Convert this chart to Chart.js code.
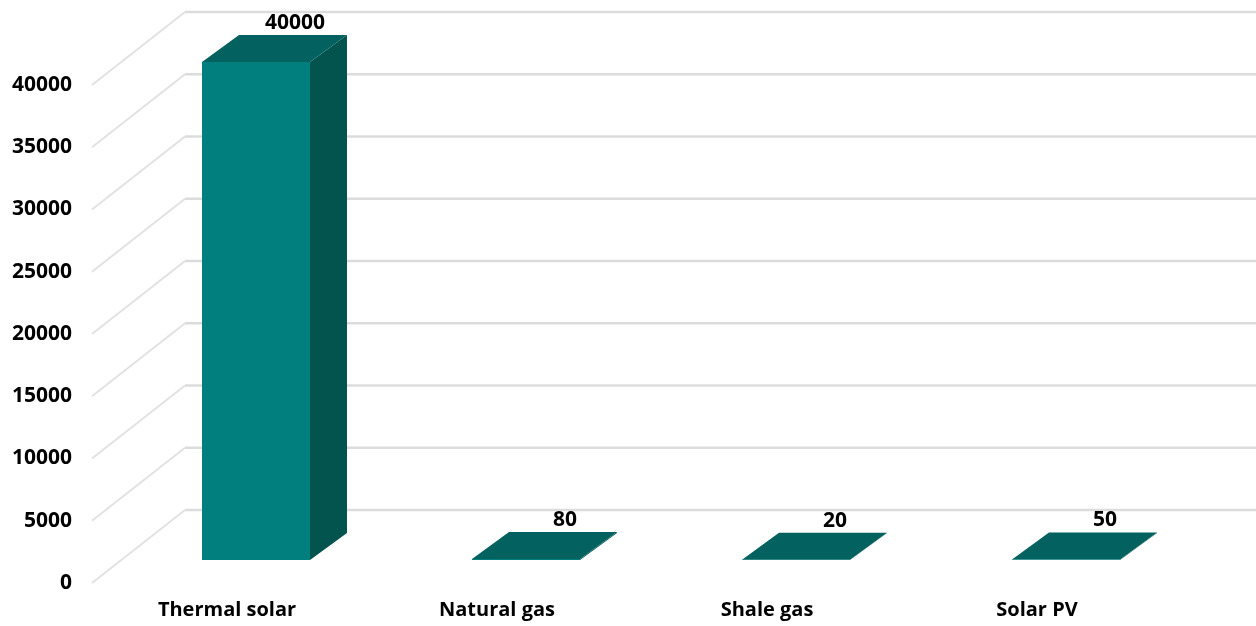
<!DOCTYPE html>
<html>
<head>
<meta charset="utf-8">
<script src="https://cdn.jsdelivr.net/npm/chart.js@4/dist/chart.umd.min.js"></script>
<style>
  html, body { margin: 0; padding: 0; background: #ffffff; }
  #wrap { width: 1256px; height: 626px; position: relative; }
</style>
</head>
<body>
<div id="wrap"><canvas id="c" width="1256" height="626"></canvas></div>
<script>
const categories = ['Thermal solar', 'Natural gas', 'Shale gas', 'Solar PV'];
const values = [40000, 80, 20, 50];
const valueLabels = ['40000', '80', '20', '50'];
const yMin = 0;
const yMax = 40000;
const yStep = 5000;

const FONT = '"Open Sans", "Noto Sans", sans-serif';
const FRONT = '#017f7e';
const SIDE = '#03534f';
const TOP = '#03625f';
const GRID = '#dcdcdc';
const GRID_DIAG = '#e2e2e2';

// 3D depth offsets (style, relative to bar front plane)
const BAR_DX = 37, BAR_DY = -27;
const FLOOR_FRONT_DX = -29, FLOOR_FRONT_DY = 23;
const WALL_DX = 64, WALL_DY = -50;

const threeD = {
  id: 'threeD',
  beforeDatasetsDraw(chart) {
    const ctx = chart.ctx;
    const ys = chart.scales.y;
    const ca = chart.chartArea;
    ctx.save();
    ys.ticks.forEach(t => {
      const py = ys.getPixelForValue(t.value);
      ctx.lineWidth = 2;
      ctx.strokeStyle = GRID_DIAG;
      ctx.beginPath();
      ctx.moveTo(ca.left + FLOOR_FRONT_DX, py + FLOOR_FRONT_DY);
      ctx.lineTo(ca.left + WALL_DX, py + WALL_DY);
      ctx.stroke();
      ctx.lineWidth = 2.5;
      ctx.strokeStyle = GRID;
      ctx.beginPath();
      ctx.moveTo(ca.left + WALL_DX, py + WALL_DY);
      ctx.lineTo(chart.width, py + WALL_DY);
      ctx.stroke();
    });
    const meta = chart.getDatasetMeta(0);
    meta.data.forEach(el => {
      const p = el.getProps(['x', 'y', 'base', 'width'], true);
      const l = p.x - p.width / 2, r = p.x + p.width / 2;
      ctx.fillStyle = SIDE;
      ctx.beginPath();
      ctx.moveTo(r, p.y);
      ctx.lineTo(r + BAR_DX, p.y + BAR_DY);
      ctx.lineTo(r + BAR_DX, p.base + BAR_DY);
      ctx.lineTo(r, p.base);
      ctx.closePath();
      ctx.fill();
      ctx.fillStyle = TOP;
      ctx.beginPath();
      ctx.moveTo(l, p.y);
      ctx.lineTo(r, p.y);
      ctx.lineTo(r + BAR_DX, p.y + BAR_DY);
      ctx.lineTo(l + BAR_DX, p.y + BAR_DY);
      ctx.closePath();
      ctx.fill();
    });
    ctx.restore();
  },
  afterDatasetsDraw(chart) {
    const ctx = chart.ctx;
    const meta = chart.getDatasetMeta(0);
    ctx.save();
    ctx.fillStyle = '#000000';
    ctx.font = 'bold 21px ' + FONT;
    ctx.textAlign = 'center';
    ctx.textBaseline = 'middle';
    meta.data.forEach((el, i) => {
      const p = el.getProps(['x', 'y'], true);
      ctx.fillText(valueLabels[i], p.x + BAR_DX + 2, p.y + BAR_DY - 12);
    });
    ctx.restore();
  }
};

new Chart(document.getElementById('c'), {
  type: 'bar',
  data: {
    labels: categories,
    datasets: [{
      data: values,
      backgroundColor: FRONT,
      borderWidth: 0,
      barPercentage: 0.4,
      categoryPercentage: 1.0
    }]
  },
  options: {
    responsive: false,
    animation: false,
    devicePixelRatio: 1,
    layout: { padding: { top: 62, right: 55, left: 0, bottom: 0 } },
    plugins: { legend: { display: false }, tooltip: { enabled: false } },
    scales: {
      x: {
        grid: { display: false, drawTicks: false },
        border: { display: false },
        ticks: {
          color: '#000000',
          font: { family: FONT, size: 20, weight: 'bold' },
          padding: 38,
          labelOffset: FLOOR_FRONT_DX,
          maxRotation: 0,
          autoSkip: false
        },
        afterFit(s) { s.height = 66; }
      },
      y: {
        min: yMin,
        max: yMax,
        grid: { display: false, drawTicks: false },
        border: { display: false },
        ticks: {
          stepSize: yStep,
          color: '#000000',
          font: { family: FONT, size: 21, weight: 'bold' },
          padding: 49,
          labelOffset: FLOOR_FRONT_DY,
          callback: v => String(v)
        },
        afterFit(s) { s.width = 121; }
      }
    }
  },
  plugins: [threeD]
});
</script>
</body>
</html>
